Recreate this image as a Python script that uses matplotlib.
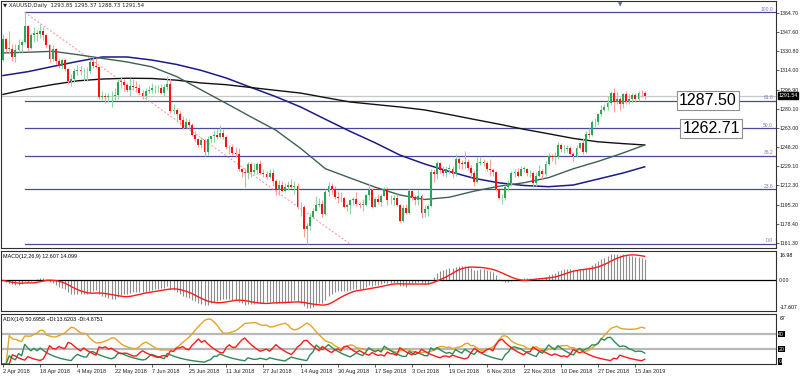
import numpy as np
import pandas as pd
import matplotlib
matplotlib.use("Agg")
import matplotlib.pyplot as plt

plt.rcParams["font.family"] = ["Liberation Sans", "DejaVu Sans"]

# daily XAUUSD, 2 Apr 2018 .. 18 Jan 2019 (open = previous close)
first_open = 1323.0
closes = [1342, 1333, 1333, 1326, 1332, 1336, 1339, 1353, 1334, 1345, 1347, 1346, 1349, 1345, 1336, 1324, 1333, 1322, 1318, 1323, 1315,
          1305, 1306, 1313, 1314, 1313, 1313, 1313, 1321, 1318, 1317, 1290, 1291, 1290, 1291, 1291, 1292, 1304, 1304, 1301, 1297, 1300, 1299, 1298,
          1294, 1291, 1296, 1297, 1298, 1298, 1298, 1294, 1299, 1302, 1278, 1279, 1275, 1270, 1263, 1268, 1266, 1257, 1253, 1248, 1252,
          1242, 1253, 1256, 1257, 1255, 1259, 1255, 1246, 1246, 1241, 1240, 1227, 1224, 1223, 1231, 1224, 1226, 1231, 1223, 1222, 1220, 1223,
          1216, 1208, 1213, 1207, 1211, 1213, 1211, 1212, 1193, 1193, 1174, 1176, 1184, 1190, 1195, 1196, 1187, 1206, 1212, 1209, 1202, 1201, 1201,
          1193, 1195, 1199, 1200, 1196, 1195, 1195, 1204, 1208, 1193, 1200, 1198, 1203, 1209, 1199, 1199, 1201, 1195, 1181, 1192,
          1188, 1207, 1202, 1199, 1203, 1188, 1191, 1194, 1224, 1222, 1232, 1226, 1223, 1227, 1227, 1222, 1236, 1232, 1231, 1233, 1228, 1223, 1215,
          1232, 1233, 1232, 1227, 1226, 1224, 1209, 1201, 1201, 1211, 1214, 1223, 1224, 1221, 1227, 1227, 1223, 1223, 1214, 1221, 1225, 1222,
          1231, 1238, 1237, 1238, 1248, 1244, 1244, 1245, 1240, 1238, 1245, 1250, 1242, 1258, 1257, 1268, 1268, 1275, 1279, 1282,
          1285, 1294, 1286, 1289, 1284, 1293, 1287, 1289, 1292, 1289, 1294, 1293.85, 1291.54]
highs = [1346, 1343, 1349, 1337, 1337, 1342, 1341, 1365.2, 1354, 1347, 1352, 1350, 1355, 1352, 1346, 1337, 1336, 1334, 1325, 1325, 1325,
         1316, 1311, 1316, 1319, 1318, 1316, 1317, 1324, 1326, 1325, 1318, 1296, 1294, 1294, 1296, 1298, 1306, 1308, 1306, 1303, 1307, 1306, 1305,
         1302, 1297, 1298, 1300, 1303, 1301, 1301, 1302, 1302, 1309, 1307, 1284, 1281, 1278, 1274, 1272, 1271, 1267, 1260, 1254, 1255,
         1253, 1256, 1257, 1261, 1262, 1266, 1262, 1257, 1248, 1249, 1246, 1245, 1228, 1228, 1233, 1233, 1232, 1233, 1235, 1227, 1225, 1227,
         1227, 1218, 1217, 1216, 1214, 1216, 1218, 1216, 1214, 1198, 1195, 1179, 1188, 1192, 1203, 1201, 1199, 1209, 1215, 1214, 1212, 1207, 1206,
         1202, 1197, 1200, 1202, 1206, 1198, 1200, 1205, 1214, 1210, 1202, 1205, 1205, 1211, 1211, 1204, 1204, 1205, 1196, 1195,
         1196, 1209, 1208, 1204, 1208, 1205, 1195, 1196, 1227, 1227, 1234, 1233, 1229, 1229, 1231, 1229, 1240, 1237, 1235, 1243, 1236, 1230, 1226,
         1237, 1237, 1236, 1234, 1236, 1228, 1225, 1210, 1205, 1213, 1217, 1225, 1227, 1228, 1229, 1229, 1228, 1226, 1225, 1224, 1230, 1227,
         1234, 1241, 1240, 1242, 1251, 1250, 1248, 1248, 1247, 1242, 1248, 1251, 1254, 1260, 1263, 1270, 1272, 1276, 1283, 1284,
         1291, 1296, 1298, 1295, 1290, 1294, 1296, 1293, 1294, 1294, 1296, 1297, 1295.37]
lows = [1322, 1330, 1328, 1322, 1321, 1330, 1330, 1338, 1331, 1333, 1339, 1340, 1343, 1341, 1334, 1321, 1322, 1320, 1316, 1315, 1313,
        1302, 1300, 1304, 1310, 1310, 1305, 1305, 1312, 1316, 1316, 1289, 1288, 1285, 1286, 1282, 1288, 1289, 1298, 1296, 1295, 1291, 1297, 1296,
        1292, 1289, 1289, 1294, 1294, 1294, 1295, 1293, 1291, 1297, 1276, 1275, 1269, 1266, 1262, 1264, 1263, 1256, 1251, 1246, 1245,
        1238, 1239, 1250, 1251, 1253, 1254, 1253, 1244, 1240, 1239, 1237, 1225, 1220, 1211, 1218, 1220, 1222, 1222, 1222, 1220, 1218, 1219,
        1212, 1204, 1204, 1206, 1206, 1208, 1210, 1205, 1191, 1185, 1167, 1160.4, 1173, 1183, 1190, 1193, 1184, 1186, 1203, 1205, 1200, 1197, 1198,
        1192, 1190, 1187, 1195, 1194, 1192, 1190, 1194, 1199, 1192, 1193, 1196, 1194, 1203, 1195, 1196, 1195, 1194, 1180, 1180,
        1187, 1187, 1199, 1195, 1195, 1183, 1184, 1185, 1193, 1215, 1218, 1223, 1221, 1220, 1222, 1219, 1221, 1227, 1227, 1228, 1226, 1220, 1212,
        1214, 1230, 1229, 1225, 1221, 1221, 1207, 1200, 1196, 1199, 1207, 1212, 1220, 1220, 1221, 1224, 1221, 1220, 1211, 1212, 1220, 1218,
        1221, 1230, 1234, 1231, 1236, 1242, 1241, 1242, 1239, 1234, 1237, 1244, 1240, 1241, 1254, 1256, 1264, 1266, 1274, 1278,
        1279, 1283, 1277, 1284, 1279, 1281, 1284, 1284, 1286, 1286, 1287, 1290, 1288.73]

date_labels = ["2 Apr 2018", "18 Apr 2018", "4 May 2018", "22 May 2018", "7 Jun 2018", "25 Jun 2018",
               "11 Jul 2018", "27 Jul 2018", "14 Aug 2018", "30 Aug 2018", "17 Sep 2018", "3 Oct 2018",
               "19 Oct 2018", "6 Nov 2018", "22 Nov 2018", "10 Dec 2018", "27 Dec 2018", "15 Jan 2019"]

# moving averages every 8 bars
ma_idx = list(range(0, 201, 8)) + [207]
ma_slow_blue = [1309.4, 1312.8, 1317.4, 1321.8, 1325.8, 1325.8, 1323.1, 1319.2, 1313.9, 1307.2, 1298.9, 1290.7, 1281.6, 1270.7,
                1260.0, 1250.0, 1239.1, 1231.2, 1224.5, 1218.5, 1214.5, 1212.2, 1211.1, 1212.6, 1217.9, 1223.2, 1228.7]
ma_black = [1292.7, 1297.5, 1301.4, 1304.7, 1306.3, 1307.0, 1306.8, 1305.3, 1302.8, 1301.3, 1298.8, 1296.3, 1293.9, 1289.9,
            1286.0, 1283.8, 1281.6, 1279.0, 1274.9, 1270.6, 1266.4, 1261.9, 1257.9, 1253.8, 1250.8, 1249.2, 1248.0]
ma_gray = [1329.4, 1330.0, 1330.8, 1327.9, 1324.6, 1321.4, 1317.1, 1308.5, 1296.6, 1284.8, 1272.8, 1261.1, 1245.0, 1227.0,
           1218.8, 1210.7, 1203.8, 1199.8, 1201.8, 1207.2, 1211.5, 1214.6, 1219.1, 1227.0, 1233.5, 1240.9, 1248.0]

fib_levels = [0.0, 23.6, 38.2, 50.0, 61.8, 100.0]
fib_high, fib_low = 1365.23, 1160.37
fib_start, fib_end = 7, 112
price_ticks = [1364.70, 1347.60, 1330.80, 1314.00, 1296.90, 1280.10, 1263.00, 1246.20, 1229.10, 1212.30, 1195.20, 1178.40, 1161.30]

c = np.array(closes, float)
h = np.array(highs, float)
l = np.array(lows, float)
o = np.array([first_open] + closes[:-1], float)
n = len(c)
x = np.arange(n)

# MACD(12,26,9) like MT4: signal is SMA of main
s = pd.Series(c)
macd = (s.ewm(span=12, adjust=False).mean() - s.ewm(span=26, adjust=False).mean()).values
signal = pd.Series(macd).rolling(9, min_periods=1).mean().values

# ADX(14)
pc = np.r_[c[0], c[:-1]]
ph = np.r_[h[0], h[:-1]]
pl = np.r_[l[0], l[:-1]]
tr = np.maximum(h - l, np.maximum(abs(h - pc), abs(l - pc)))
upm = h - ph
dnm = pl - l
pdm = np.where((upm > dnm) & (upm > 0), upm, 0.0)
mdm = np.where((dnm > upm) & (dnm > 0), dnm, 0.0)
pdi = pd.Series(100 * pdm / tr).ewm(span=14, adjust=True).mean().values
mdi = pd.Series(100 * mdm / tr).ewm(span=14, adjust=True).mean().values
dx = 100 * abs(pdi - mdi) / np.maximum(pdi + mdi, 1e-9)
adx = pd.Series(dx).ewm(span=14, adjust=True).mean().values

W, H = 800, 376
fig = plt.figure(figsize=(8, 3.76), dpi=100)
fig.patch.set_facecolor("white")


def px_axes(x0, y0, x1, y1):
    return fig.add_axes([x0 / W, 1 - y1 / H, (x1 - x0) / W, (y1 - y0) / H])


def px2i(px):
    return (px - 3) / 3.1


ax = px_axes(1, 1, 776, 248)
ax_m = px_axes(1, 251, 776, 311)
ax_a = px_axes(1, 314, 776, 364)
xlim = (px2i(1), px2i(776))

for a in (ax, ax_m, ax_a):
    a.set_xlim(*xlim)
    for sp in a.spines.values():
        sp.set_color("#303030")
        sp.set_linewidth(0.8)
    a.yaxis.tick_right()
    a.tick_params(axis="y", length=2, width=0.5, labelsize=3.8, pad=0.8, colors="#202020")
    a.set_xticks([])

# main price panel
ax.set_ylim(1156.9, 1375.3)
ax.axhline(closes[-1], color="#c8c8c8", lw=0.9, zorder=1)
for lev in fib_levels:
    p = fib_low + (fib_high - fib_low) * lev / 100
    ax.plot([fib_start, xlim[1]], [p, p], color="#4a4a9a", lw=0.9, zorder=1)
    ax.text(px2i(773), p + 0.6, f"{lev:.1f}", fontsize=3.6, color="#7a7ab8", ha="right", va="bottom")
ax.plot([fib_start, fib_end], [fib_high, fib_low], color="#ff8c8c", lw=0.7, ls=(0, (2, 2)), zorder=1)

ax.plot(ma_idx, ma_slow_blue, color="#1a1a8a", lw=1.1, zorder=2)
ax.plot(ma_idx, ma_black, color="#111111", lw=1.0, zorder=2)
ax.plot(ma_idx, ma_gray, color="#3f5f55", lw=1.0, zorder=2)

up = c >= o
ax.vlines(x[up], l[up], h[up], color="#8fd6a4", lw=0.8, zorder=3)
ax.vlines(x[~up], l[~up], h[~up], color="#ff9c9c", lw=0.8, zorder=3)
body_lo = np.minimum(o, c)
body_h = np.maximum(abs(c - o), 0.5)
ax.bar(x, body_h, bottom=body_lo, width=0.62, color=np.where(up, "#2ba55a", "#ff1010"), lw=0, zorder=4)

ax.set_yticks(price_ticks)
ax.set_yticklabels([f"{v:.2f}" for v in price_ticks])

for txt, val, cx in [("1287.50", 1287.50, 708), ("1262.71", 1262.71, 711)]:
    ax.text(px2i(cx), val, txt, fontsize=11.5, ha="center", va="center", zorder=6,
            bbox=dict(boxstyle="square,pad=0.12", fc="white", ec="#909090", lw=0.8))
ax.text(1.003, (closes[-1] - 1156.9) / (1375.3 - 1156.9), f"{closes[-1]:.2f}", transform=ax.transAxes,
        fontsize=3.8, color="white", ha="left", va="center",
        bbox=dict(boxstyle="square,pad=0.15", fc="black", ec="black"))
ax.text(0.003, 0.992, "\u25bc XAUUSD,Daily  1293.85 1295.37 1288.73 1291.54", transform=ax.transAxes,
        fontsize=3.9, color="#202020", ha="left", va="top", family=["DejaVu Sans"])
ax.text(px2i(620), 1374.5, "\u25bc", fontsize=4, color="#5a6a9a", ha="center", va="top", family=["DejaVu Sans"])

# MACD panel
ax_m.set_ylim(-17.607, 16.98)
ax_m.vlines(x, 0, macd, color="#8c8c8c", lw=0.8, zorder=2)
ax_m.axhline(0, color="black", lw=0.9, zorder=3)
ax_m.plot(x, signal, color="#ff1a1a", lw=1.0, zorder=4)
ax_m.set_yticks([])
ax_m.text(1.005, 0.96, "16.98", transform=ax_m.transAxes, fontsize=3.8, va="top", ha="left")
ax_m.text(1.005, 0.02, "-17.607", transform=ax_m.transAxes, fontsize=3.8, va="bottom", ha="left")
ax_m.text(1.003, 17.607 / (17.607 + 16.98), "0.00", transform=ax_m.transAxes, fontsize=3.8, va="center", ha="left",
          color="#202020", bbox=dict(boxstyle="square,pad=0.1", fc="white", ec="none"))
ax_m.text(0.003, 0.95, "MACD(12,26,9) 12.607 14.099", transform=ax_m.transAxes, fontsize=3.9, va="top", ha="left")

# ADX panel
ax_a.set_ylim(0, 67)
for lev in (40, 20):
    ax_a.axhline(lev, color="#b8b8b8", lw=1.6, zorder=1)
ax_a.plot(x, adx, color="#e0a628", lw=1.0, zorder=3)
ax_a.plot(x, pdi, color="#2e8b57", lw=1.0, zorder=3)
ax_a.plot(x, mdi, color="#ff1a1a", lw=1.0, zorder=3)
ax_a.set_yticks([])
ax_a.text(1.005, 0.97, "67", transform=ax_a.transAxes, fontsize=3.8, va="top", ha="left")
for lev in (40, 20, 0):
    ax_a.text(1.003, lev / 67 + (0.05 if lev == 0 else 0), str(lev), transform=ax_a.transAxes, fontsize=3.8,
              va="center", ha="left", color="white", bbox=dict(boxstyle="square,pad=0.1", fc="black", ec="none"))
ax_a.text(0.003, 0.95, "ADX(14) 50.6958 +DI:13.6203 -DI:4.8751", transform=ax_a.transAxes, fontsize=3.9,
          va="top", ha="left")

ticks = list(range(0, n, 12))
ax_a.set_xticks(ticks)
ax_a.set_xticklabels(date_labels, fontsize=4.0, ha="left")
ax_a.tick_params(axis="x", length=2, width=0.5, pad=1.5, colors="#202020")

fig.savefig("out.png", dpi=100, facecolor="white")
